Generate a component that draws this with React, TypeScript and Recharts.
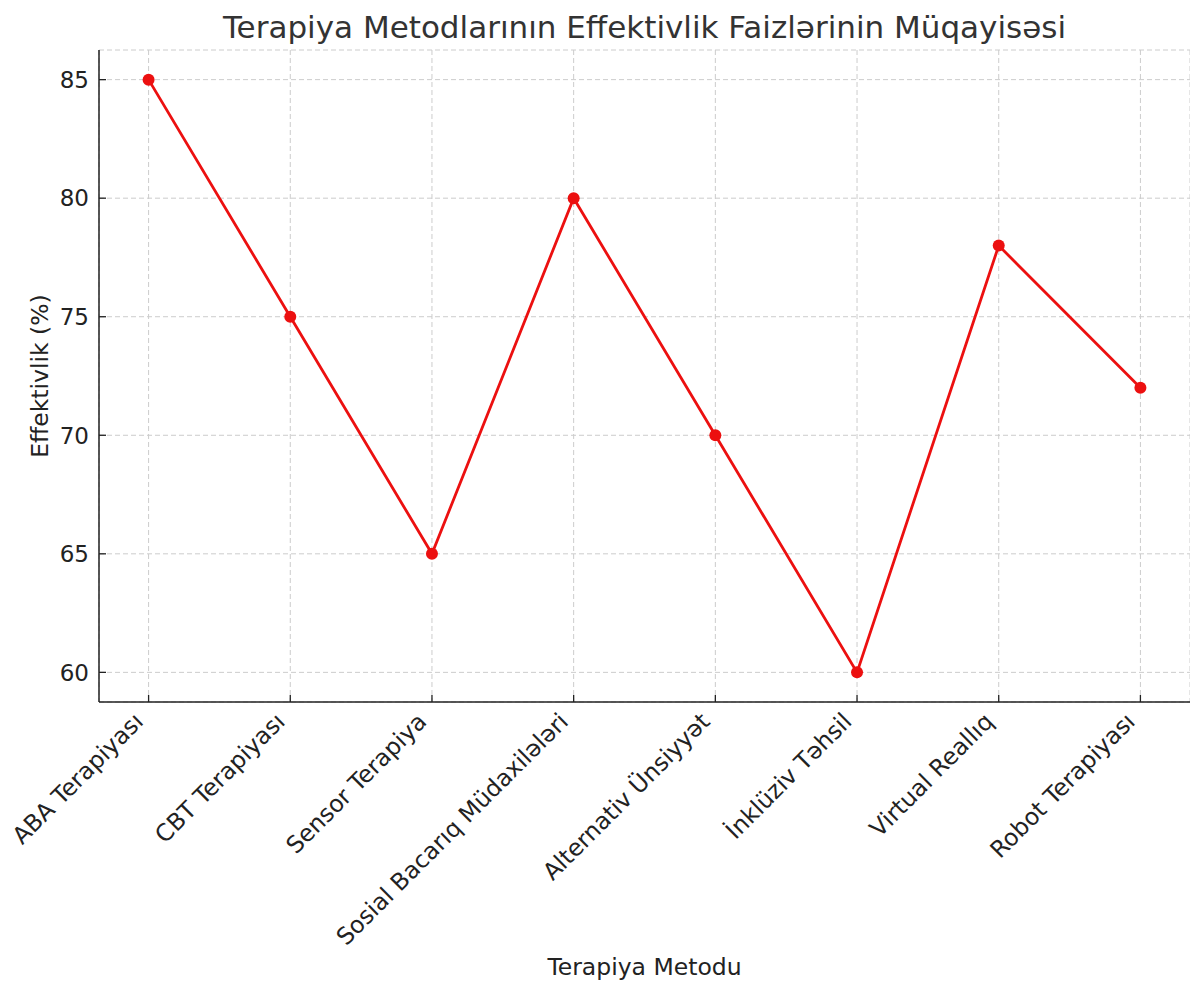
import React from "react";
import { LineChart, Line, XAxis, YAxis, CartesianGrid, Label } from "recharts";

const methods = [
  "ABA Terapiyası",
  "CBT Terapiyası",
  "Sensor Terapiya",
  "Sosial Bacarıq Müdaxilələri",
  "Alternativ Ünsiyyət",
  "İnklüziv Təhsil",
  "Virtual Reallıq",
  "Robot Terapiyası",
];
const effectiveness = [85, 75, 65, 80, 70, 60, 78, 72];
const yTicks = [60, 65, 70, 75, 80, 85];

const data = methods.map((name, i) => ({ idx: i, name, value: effectiveness[i] }));

const FONT = "'DejaVu Sans', sans-serif";
const INK = "#222";
const RED = "#ec1010";

const XTick = (props: any) => {
  const { x, y, payload } = props;
  const label = methods[payload.value] ?? "";
  return (
    <g>
      <line x1={x} y1={y} x2={x} y2={y - 7} stroke={INK} strokeWidth={1.3} />
      <text
        x={x - 4}
        y={y + 21}
        transform={`rotate(-45, ${x - 4}, ${y + 21})`}
        textAnchor="end"
        fontFamily={FONT}
        fontSize={23.5}
        fill={INK}
      >
        {label}
      </text>
    </g>
  );
};

const YTick = (props: any) => {
  const { x, y, payload } = props;
  return (
    <g>
      <line x1={x} y1={y} x2={x + 7} y2={y} stroke={INK} strokeWidth={1.3} />
      <text
        x={x - 10}
        y={y}
        dy="0.36em"
        textAnchor="end"
        fontFamily={FONT}
        fontSize={23}
        fill={INK}
      >
        {payload.value}
      </text>
    </g>
  );
};

export default function App() {
  return (
    <div style={{ position: "absolute", left: 0, top: 0, width: 1190, height: 981, background: "#fff" }}>
      <div
        style={{
          position: "absolute",
          top: 9,
          left: 99,
          width: 1091,
          textAlign: "center",
          fontFamily: FONT,
          fontSize: 31,
          color: "#333",
          lineHeight: "36px",
        }}
      >
        Terapiya Metodlarının Effektivlik Faizlərinin Müqayisəsi
      </div>
      <LineChart width={1190} height={981} data={data} margin={{ top: 50, right: 0, left: 0, bottom: 0 }}>
        <CartesianGrid stroke="#cccccc" strokeDasharray="5 3" strokeWidth={1} />
        <XAxis
          dataKey="idx"
          type="number"
          domain={[-0.35, 7.35]}
          ticks={[0, 1, 2, 3, 4, 5, 6, 7]}
          allowDataOverflow
          height={279}
          tickSize={0}
          tickMargin={0}
          tickLine={false}
          tick={<XTick />}
          axisLine={{ stroke: INK, strokeWidth: 1.5 }}
          interval={0}
        >
          <Label
            content={(p: any) => {
              const vb = p.viewBox;
              return (
                <text
                  x={vb.x + vb.width / 2}
                  y={975}
                  textAnchor="middle"
                  fontFamily={FONT}
                  fontSize={23.5}
                  fill={INK}
                >
                  Terapiya Metodu
                </text>
              );
            }}
          />
        </XAxis>
        <YAxis
          type="number"
          domain={[58.75, 86.25]}
          ticks={yTicks}
          allowDataOverflow
          width={99}
          tickSize={0}
          tickMargin={0}
          tickLine={false}
          tick={<YTick />}
          axisLine={{ stroke: INK, strokeWidth: 1.5 }}
        >
          <Label
            content={() => (
              <text
                x={48}
                y={376}
                transform="rotate(-90, 48, 376)"
                textAnchor="middle"
                fontFamily={FONT}
                fontSize={23.5}
                fill={INK}
              >
                Effektivlik (%)
              </text>
            )}
          />
        </YAxis>
        <Line
          type="linear"
          dataKey="value"
          stroke={RED}
          strokeWidth={2.8}
          dot={{ r: 6, fill: RED, stroke: RED, strokeWidth: 0 }}
          activeDot={false}
          isAnimationActive={false}
        />
      </LineChart>
    </div>
  );
}
